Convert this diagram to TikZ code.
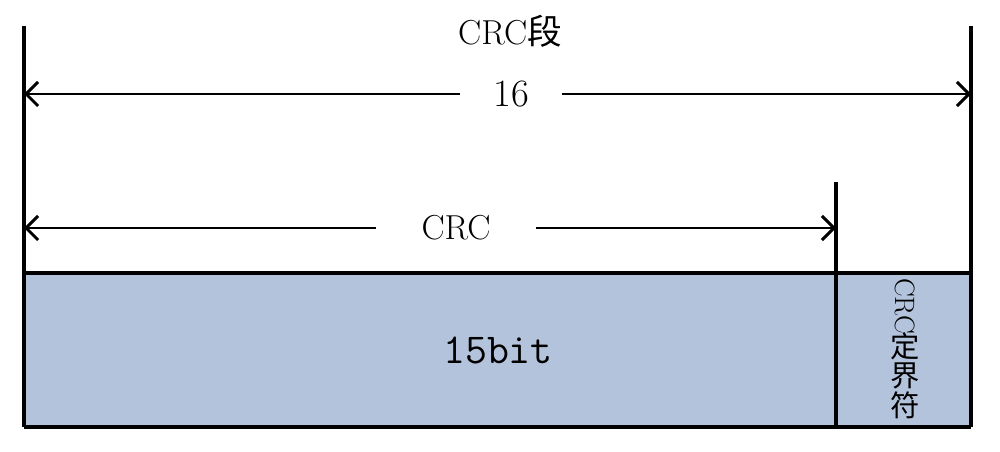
\documentclass[tikz,border=0pt]{standalone}
\usepackage{fontspec}
\newfontfamily\cjk{Noto Sans CJK SC}
\usetikzlibrary{arrows.meta}
\definecolor{fieldfill}{RGB}{180,195,220}
\tikzset{
  frame/.style={line width=2.6pt},
  dim/.style={line width=2.2pt,{Straight Barb[length=9pt,width=18pt,line width=2.2pt]}-{Straight Barb[length=9pt,width=18pt,line width=2.2pt]}},
  gaplabel/.style={fill=white,inner ysep=2pt,font=\fontsize{26}{28}\selectfont},
  vchar/.style={inner sep=0pt,font=\cjk\fontsize{22}{24}\selectfont},
}
\begin{document}
\begin{tikzpicture}[x=0.75pt,y=-0.75pt]
\useasboundingbox (0,0) rectangle (1000,452);
% coordinates
\coordinate (LT) at (24,26);
\coordinate (LB) at (24,427);
\coordinate (RT) at (971,26);
\coordinate (RB) at (971,427);
\coordinate (MT) at (836,182);
\coordinate (MB) at (836,427);
\coordinate (A1) at (24,94);
\coordinate (A2) at (971,94);
\coordinate (B1) at (24,228);
\coordinate (B2) at (836,228);
% field box
\fill[fieldfill] (24,273) rectangle (971,427);
\draw[frame] (24,273) -- (971,273);
\draw[frame] (LB) -- (RB);
\draw[frame] (LT) -- (LB);
\draw[frame] (RT) -- (RB);
\draw[frame] (MT) -- (MB);
% dimension arrows
\draw[dim] (A1) -- (A2);
\draw[dim] (B1) -- (B2);
\node[gaplabel,inner xsep=25pt,font=\fontsize{29}{30}\selectfont] (n16) at (511,94) {16};
\node[gaplabel,inner xsep=34pt] (ncrc) at (456,228) {CRC};
% labels
\node[font=\fontsize{26}{28}\selectfont] (title) at (510,31) {CRC\cjk 段};
\node[font=\ttfamily\fontsize{32}{34}\selectfont] (bits) at (498,350) {15bit};
\node[inner sep=0pt,rotate=-90,font=\fontsize{21}{22}\selectfont] (dcrc) at (905,306) {CRC};
\node[vchar] (d1) at (905,346) {定};
\node[vchar] (d2) at (905,376) {界};
\node[vchar] (d3) at (905,405) {符};
\end{tikzpicture}
\end{document}
